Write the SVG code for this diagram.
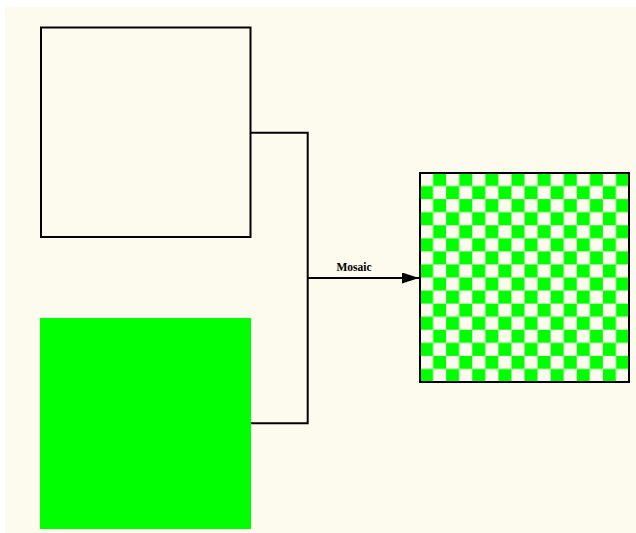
<svg xmlns="http://www.w3.org/2000/svg" width="636" height="533" viewBox="0 0 636 533">
<style>
.edge{fill:none;stroke:#000;stroke-width:2}
.lbl{font-family:"Liberation Serif","Times New Roman",serif;font-weight:bold;font-size:11.5px;fill:#000}
</style>
<defs>
<pattern id="chk" patternUnits="userSpaceOnUse" x="420" y="173" width="26.125" height="26.125">
<rect x="0" y="0" width="26.125" height="26.125" fill="#00ff00"/>
<rect x="0" y="0" width="13.0625" height="13.0625" fill="#fdfaee"/>
<rect x="13.0625" y="13.0625" width="13.0625" height="13.0625" fill="#fdfaee"/>
</pattern>
<marker id="arr" markerWidth="17" markerHeight="11" refX="17" refY="5.5" orient="auto" markerUnits="userSpaceOnUse">
<path d="M0,0 L17,5.5 L0,11 Z" fill="#000"/>
</marker>
</defs>
<rect x="5" y="7" width="631" height="526" fill="#fdfaee"/>
<g id="node-white">
<rect x="41" y="27.5" width="209.5" height="209.5" fill="#fdfaee" stroke="#000" stroke-width="2"/>
</g>
<g id="node-green">
<rect x="40" y="318" width="211" height="211" fill="#00ff00"/>
</g>
<g id="node-mosaic">
<rect x="420" y="173" width="209" height="209" fill="url(#chk)" stroke="#000" stroke-width="2"/>
</g>
<g id="connectors">
<path class="edge" d="M250.5,132.7 H307.7 V423.3 H251"/>
<path class="edge" d="M307.7,278 H419" marker-end="url(#arr)"/>
<text class="lbl" x="354" y="270.5" text-anchor="middle">Mosaic</text>
</g>
</svg>
